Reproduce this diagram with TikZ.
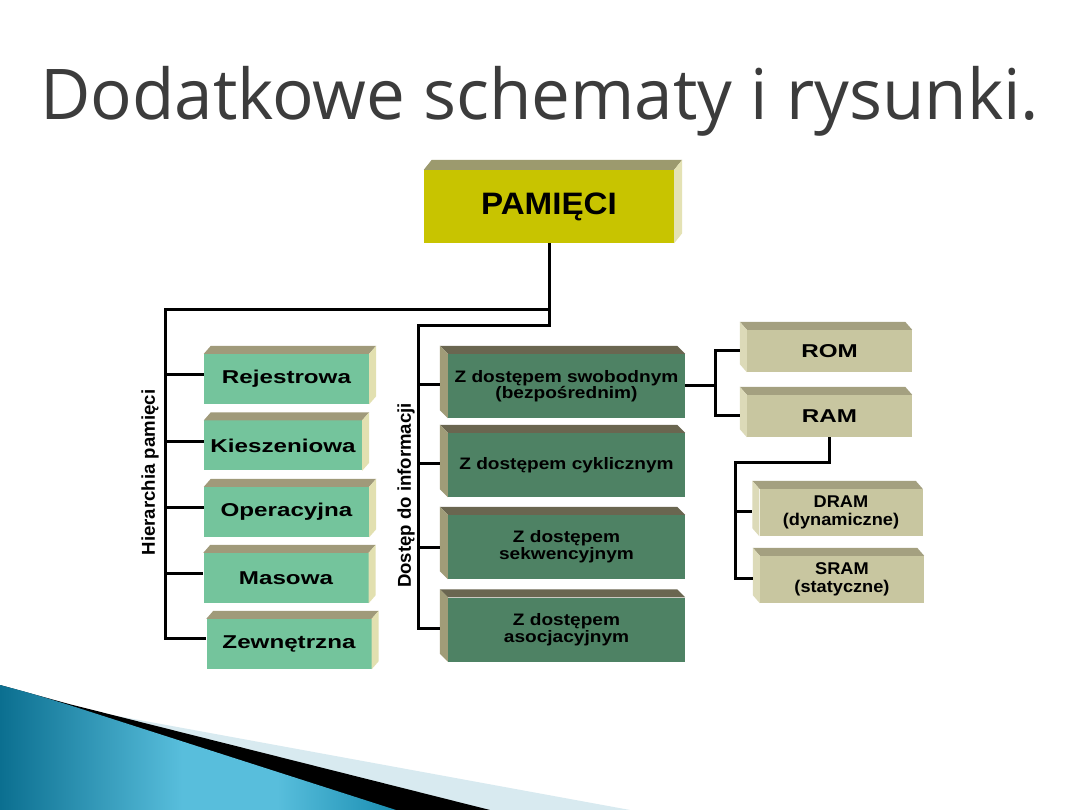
\documentclass[tikz,border=0pt]{standalone}
\usepackage{fontspec}
\setmainfont{Liberation Sans}
\newfontfamily\titlefont{Open Sans}
\usetikzlibrary{calc}
\definecolor{pamfront}{HTML}{C8C400}
\definecolor{pamtop}{HTML}{9C9A6E}
\definecolor{pamside}{HTML}{E4E2B4}
\definecolor{grfront}{HTML}{74C49C}
\definecolor{grtop}{HTML}{A09A7A}
\definecolor{grside}{HTML}{E2E0B0}
\definecolor{dkfront}{HTML}{4E8264}
\definecolor{dktop}{HTML}{6A6650}
\definecolor{dkside}{HTML}{A09C78}
\definecolor{bgfront}{HTML}{C8C6A0}
\definecolor{bgtop}{HTML}{A4A080}
\definecolor{bgside}{HTML}{DCDAB8}
\definecolor{titlegray}{HTML}{3C3C3C}
\definecolor{lightband}{HTML}{D8EAF0}
\definecolor{bluedark}{HTML}{0B6F90}
\definecolor{bluemid}{HTML}{58BEDC}
\definecolor{blueright}{HTML}{1A8EB2}
\pgfdeclarehorizontalshading{bluewedge}{100bp}{color(0bp)=(bluedark); color(25bp)=(bluedark);
  color(48bp)=(bluemid); color(60bp)=(bluemid); color(75bp)=(blueright); color(100bp)=(blueright)}
\newcommand\sx[2]{\scalebox{#1}[1]{#2}}
% right/up depth: name, dx, dy, top colour, side colour
\newcommand\rdepth[5]{%
  \fill[#4] (#1.north west) -- ($(#1.north west)+(#2,#3)$) -- ($(#1.north east)+(#2,#3)$) -- (#1.north east) -- cycle;
  \fill[#5] (#1.north east) -- ($(#1.north east)+(#2,#3)$) -- ($(#1.south east)+(#2,#3)$) -- (#1.south east) -- cycle;}
% left/up depth
\newcommand\ldepth[5]{%
  \fill[#4] (#1.north east) -- ($(#1.north east)+(#2,#3)$) -- ($(#1.north west)+(#2,#3)$) -- (#1.north west) -- cycle;
  \fill[#5] (#1.north west) -- ($(#1.north west)+(#2,#3)$) -- ($(#1.south west)+(#2,#3)$) -- (#1.south west) -- cycle;}
\begin{document}
\begin{tikzpicture}[x=1pt,y=-1pt,
  frontbox/.style={inner sep=0pt, align=center, text=black},
  pambox/.style={frontbox, fill=pamfront, minimum width=250pt, minimum height=73pt,
     font=\fontsize{31}{34}\selectfont\bfseries},
  grbox/.style={frontbox, fill=grfront, minimum width=165pt, minimum height=50pt,
     font=\fontsize{18.6}{20}\selectfont\bfseries},
  dkbox/.style={frontbox, fill=dkfront, minimum width=237pt, minimum height=64pt,
     font=\fontsize{16.6}{17}\selectfont\bfseries},
  bgbox/.style={frontbox, fill=bgfront, minimum width=165pt, minimum height=42pt,
     font=\fontsize{18.6}{20}\selectfont\bfseries},
  smbox/.style={frontbox, fill=bgfront, minimum width=163pt, minimum height=47pt,
     font=\fontsize{17}{17.5}\selectfont\bfseries},
  sidelabel/.style={rotate=90, inner sep=0pt, font=\fontsize{18.6}{20}\selectfont\bfseries},
  conn/.style={line width=3pt, draw=black}]
\useasboundingbox (0,0) rectangle (1080,810);
\fill[white] (0,0) rectangle (1080,810);

% background decoration
\fill[lightband] (0,685) -- (90,711) -- (630,810) -- (0,810) -- cycle;
\fill[black] (0,685) -- (69,704) -- (490,810) -- (0,810) -- cycle;
\shade[shading=bluewedge]
  (0,685) .. controls (30,693) .. (69,705) -- (396,810) -- (0,810) -- cycle;

% title
\node[anchor=base west, inner sep=0pt, text=titlegray,
  font=\titlefont\fontsize{70}{80}\selectfont] (title) at (40,120) {\sx{0.988}{Dodatkowe schematy i rysunki.}};

% boxes
\node[pambox] (pam) at (549,206.5) {\sx{1.07}{PAMIĘCI}};
\rdepth{pam}{8}{-10}{pamtop}{pamside}

\node[grbox] (g1) at (286.5,379) {\sx{1.3}{Rejestrowa}};
\node[grbox, minimum width=158pt] (g2) at (283,445.5) {\sx{1.3}{Kieszeniowa}};
\node[grbox] (g3) at (286.5,512) {\sx{1.3}{Operacyjna}};
\node[grbox] (g4) at (286,578) {\sx{1.3}{Masowa}};
\node[grbox] (g5) at (289,644) {\sx{1.3}{Zewnętrzna}};
\foreach \n in {g1,g2,g3,g4,g5}{\rdepth{\n}{7}{-8}{grtop}{grside}}

\node[dkbox] (m1) at (566.5,386) {\sx{1.15}{Z dostępem swobodnym}\\[-1pt]\sx{1.15}{(bezpośrednim)}};
\node[dkbox] (m2) at (566.5,465) {\sx{1.15}{Z dostępem cyklicznym}};
\node[dkbox] (m3) at (566.5,547) {\sx{1.15}{Z dostępem}\\\sx{1.15}{sekwencyjnym}};
\node[dkbox] (m4) at (566.5,629.5) {\sx{1.15}{Z dostępem}\\\sx{1.15}{asocjacyjnym}};
\foreach \n in {m1,m2,m3,m4}{\ldepth{\n}{-8}{-8}{dktop}{dkside}}

\node[bgbox] (rom) at (829.5,351) {\sx{1.3}{ROM}};
\node[bgbox] (ram) at (829.5,416) {\sx{1.3}{RAM}};
\node[smbox] (dram) at (841,512.5) {\sx{1.07}{DRAM}\\\sx{1.07}{(dynamiczne)}};
\node[smbox, minimum width=164pt] (sram) at (842,579.5) {\sx{1.07}{SRAM}\\\sx{1.07}{(statyczne)}};
\foreach \n in {rom,ram,dram,sram}{\ldepth{\n}{-7}{-8}{bgtop}{bgside}}

% side labels
\node[sidelabel] (hl) at (150,472.5) {Hierarchia pamięci};
\node[sidelabel] (dl) at (406,495.5) {Dostęp do informacji};

% connector coordinates
\coordinate (hTop) at (165,310);
\coordinate (mTop) at (418,326);
\foreach \n/\o in {g1/-4,g2/-4,g3/-5,g4/-5,g5/-6}{\coordinate (\n c) at ($(\n.west)+(0,\o)$);}
\foreach \n/\o in {m1/-1,m2/-1,m3/0,m4/-1}{\coordinate (\n c) at ($(\n.west)+(-8,\o)$);}
\coordinate (romc) at ($(rom.west)+(-7,0)$);
\coordinate (ramc) at ($(ram.west)+(-7,0)$);
\coordinate (dramc) at ($(dram.west)+(-7,-1)$);
\coordinate (sramc) at ($(sram.west)+(-7,-1)$);
\coordinate (rj) at ($(m1.east)+(30,0)$);
\coordinate (rb) at ($(ram.south)+(0,25)$);
\coordinate (dj) at (735,462);

% connectors
\draw[conn] (pam.south) -- (pam.south |- mTop) -- (mTop) -- (mTop |- m4c) -- (m4c);
\draw[conn] (pam.south |- hTop) -- (hTop) -- (hTop |- g5c) -- (g5c);
\foreach \n in {g1,g2,g3,g4}{\draw[conn] (hTop |- \n c) -- (\n c);}
\foreach \n in {m1,m2,m3}{\draw[conn] (mTop |- \n c) -- (\n c);}
\draw[conn] (m1.east) -- (rj);
\draw[conn] (romc) -- (rj |- romc) -- (rj |- ramc) -- (ramc);
\draw[conn] (ram.south) -- (rb) -- (rb -| dj) -- (dj |- sramc) -- (sramc);
\draw[conn] (dj |- dramc) -- (dramc);
\end{tikzpicture}
\end{document}
